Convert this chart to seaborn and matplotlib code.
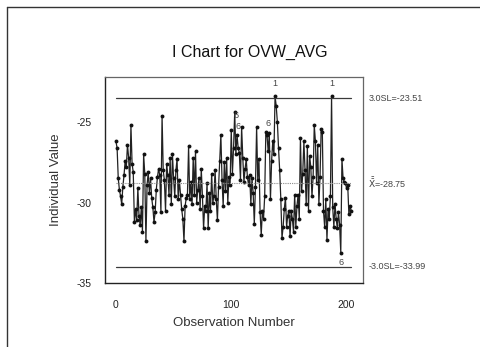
"""I chart (individuals control chart) for OVW_AVG, Minitab-style."""

import matplotlib.pyplot as plt
import numpy as np
import pandas as pd
import seaborn as sns
from matplotlib.lines import Line2D

# individual values, observation 0..204
values = [
    -26.2, -26.6, -28.5, -29.2, -29.6, -30.1, -29.0, -28.3, -27.4, -27.8,
    -26.4, -27.2, -28.9, -25.2, -27.6, -28.1, -31.2, -30.4, -31.1, -29.1,
    -30.8, -31.4, -30.3, -31.8, -27.0, -28.2, -32.4, -28.9, -28.1, -29.4,
    -28.5, -29.7, -30.3, -31.2, -30.6, -29.2, -28.4, -27.9, -28.3, -30.6,
    -24.6, -28.0, -28.6, -30.5, -27.6, -28.3, -29.5, -27.2, -30.1, -27.0,
    -28.5, -29.6, -28.0, -27.3, -29.8, -28.6, -29.5, -30.4, -31.0, -32.4,
    -30.2, -29.7, -29.5, -26.5, -29.8, -28.7, -30.1, -27.2, -29.5, -26.8,
    -30.0, -29.2, -28.5, -30.4, -27.9, -29.6, -31.6, -30.2, -30.5, -28.8,
    -31.6, -29.4, -30.5, -28.2, -30.0, -29.6, -28.0, -29.8, -31.1, -29.0,
    -27.4, -25.8, -28.6, -30.2, -27.5, -29.3, -27.2, -30.0, -28.4, -28.9,
    -25.5, -28.2, -26.6, -24.4, -27.0, -25.8, -26.6, -26.9, -28.6, -25.3,
    -27.2, -28.7, -27.9, -27.3, -28.4, -28.9, -28.3, -30.1, -28.5, -29.4,
    -31.3, -29.0, -25.3, -28.6, -27.3, -30.6, -32.0, -30.5, -31.0, -29.6,
    -25.6, -25.8, -26.8, -25.7, -29.8, -27.4, -26.2, -27.0, -23.4, -24.0,
    -25.0, -26.6, -28.0, -29.8, -32.2, -31.5, -30.4, -29.7, -31.5, -30.8,
    -30.5, -32.1, -30.5, -31.0, -31.8, -29.5, -31.5, -30.2, -29.5, -31.0,
    -26.0, -29.3, -28.2, -26.2, -28.0, -30.1, -26.5, -30.5, -27.1, -27.8,
    -29.6, -28.4, -25.2, -26.2, -28.8, -26.4, -30.1, -28.4, -25.4, -25.6,
    -30.5, -31.5, -29.8, -32.3, -30.4, -31.0, -29.6, -23.4, -30.3, -31.5,
    -30.1, -31.0, -31.6, -30.6, -31.4, -33.1, -27.3, -28.5, -28.7, -28.8,
    -29.1, -28.9, -30.7, -30.2, -30.5,
]
observations = list(range(len(values)))

# control limits printed on the chart
ucl, center, lcl = -23.51, -28.75, -33.99
limit_labels = ["3.0SL=-23.51", r"$\bar{\bar{\mathrm{X}}}$=-28.75", "-3.0SL=-33.99"]

# test-failure flags: (observation, value, flag)
flag_obs = [138, 187, 104, 106, 132, 195]
flag_val = [-22.6, -22.6, -24.6, -25.3, -25.1, -33.7]
flag_txt = ["1", "1", "6", "6", "6", "6"]

df = pd.DataFrame({"obs": observations, "value": values})

sns.set_theme(style="white")
plt.rcParams["font.family"] = ["Liberation Sans", "DejaVu Sans"]

fig = plt.figure(figsize=(4.81, 3.47), dpi=100)
ax = fig.add_axes([0.219, 0.184, 0.536, 0.594])

sns.lineplot(
    data=df, x="obs", y="value", ax=ax, color="#222", linewidth=0.9,
    marker="o", markersize=2.8, markeredgewidth=0, markerfacecolor="#111",
)

x_end = observations[-1]
ax.plot([0, x_end], [ucl, ucl], color="#3a3a3a", linewidth=0.9)
ax.plot([0, x_end], [lcl, lcl], color="#3a3a3a", linewidth=0.9)
ax.plot([0, x_end], [center, center], color="#8a8a8a", linewidth=0.8, linestyle=(0, (1, 1)))

for xo, yv, t in zip(flag_obs, flag_val, flag_txt):
    ax.text(xo, yv, t, fontsize=6.5, color="#444", ha="center", va="center")

ax.set_xlim(-9.2, 214.4)
ax.set_ylim(-35, -22.2)
ax.set_xticks([0, 100, 200])
ax.set_yticks([-25, -30, -35])
ax.set_yticklabels(["-25", "-30", "-35"])
ax.tick_params(axis="both", which="both", direction="out", labelsize=7.5,
               colors="#222", length=5, width=0.9)
ax.tick_params(axis="y", pad=5)
ax.tick_params(axis="x", pad=8, length=4)
ax.set_xlabel("Observation Number", fontsize=9.5, color="#333", labelpad=5)
ax.set_ylabel("Individual Value", fontsize=9.5, color="#333", labelpad=10)

for side in ["left", "bottom"]:
    ax.spines[side].set_color("#222")
    ax.spines[side].set_linewidth(1.0)
for side in ["top", "right"]:
    ax.spines[side].set_color("#666")
    ax.spines[side].set_linewidth(0.9)

for yv, lab in zip([ucl, center, lcl], limit_labels):
    ax.text(1.02, yv, lab, transform=ax.get_yaxis_transform(), fontsize=6.5,
            color="#444", ha="left", va="center")

fig.text(0.52, 0.85, "I Chart for OVW_AVG", fontsize=11.5, color="#111",
         ha="center", va="center")

# scanned page frame
fig.add_artist(Line2D([0.015, 0.015], [0.0, 0.98], color="#333", linewidth=1.0))
fig.add_artist(Line2D([0.015, 1.0], [0.98, 0.98], color="#333", linewidth=1.0))

fig.savefig("out.png", dpi=100, facecolor="white")
